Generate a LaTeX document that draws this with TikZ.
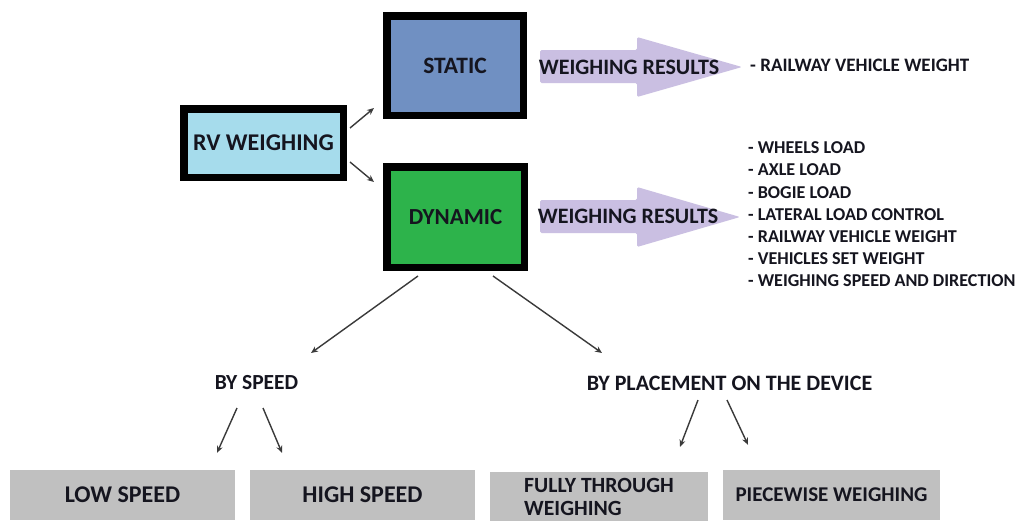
\documentclass[tikz,border=0pt]{standalone}
\usepackage{fontspec}
\setmainfont{Carlito}
\usetikzlibrary{arrows.meta}
\definecolor{rvblue}{HTML}{A6DCEC}
\definecolor{stblue}{HTML}{7090C2}
\definecolor{dyngreen}{HTML}{2DB34B}
\definecolor{lilac}{HTML}{CABFE2}
\definecolor{boxgray}{HTML}{C0C0C0}
\definecolor{ink}{HTML}{15151F}
\definecolor{arrowgray}{HTML}{3A3A3A}
\newcommand{\fs}[1]{\fontsize{#1}{#1}\selectfont\bfseries}
\begin{document}
\begin{tikzpicture}[x=1pt,y=-1pt,
  every node/.style={text=ink},
  lbl/.style={font=\fs{22}, inner sep=0pt},
  small/.style={font=\fontsize{18.1}{22.2}\selectfont\bfseries, inner sep=0pt, align=left},
  heavybox/.style={draw=black, line width=7.5pt, rectangle, inner sep=0pt},
  graybox/.style={fill=boxgray, rectangle, inner sep=0pt, minimum height=50pt, lbl},
  conn/.style={draw=arrowgray, line width=1.4pt, -{Stealth[length=7pt,width=6pt]}},
  bigarrow/.style={fill=lilac, rounded corners=1.5pt},
]
\useasboundingbox (0,0) rectangle (1019,520);
\fill[white] (0,0) rectangle (1019,520);

% main boxes
\node[heavybox, fill=rvblue, minimum width=159.5pt, minimum height=68.5pt,
      font=\fs{24}] (rv) at (263.5,143) {RV WEIGHING};
\node[heavybox, fill=stblue, minimum width=136.5pt, minimum height=99.5pt, font=\fs{23.5}] (static) at (455,65.5) {STATIC};
\node[heavybox, fill=dyngreen, minimum width=137.5pt, minimum height=100.5pt, font=\fs{23}] (dynamic) at (455.5,217) {DYNAMIC};

% big result arrows
\fill[bigarrow] (540,50) -- (637,50) -- (637,37) -- (742,67) -- (637,97) -- (637,83) -- (540,83) -- cycle;
\fill[bigarrow] (540,200) -- (637,200) -- (637,187) -- (740,217) -- (637,247) -- (637,233) -- (540,233) -- cycle;
\node[lbl] (res1) at (629,67) {WEIGHING RESULTS};
\node[lbl] (res2) at (628,216) {WEIGHING RESULTS};

% result lists
\node[small, anchor=west, font=\fs{19}] (list1) at (750,65) {- RAILWAY VEHICLE WEIGHT};
\node[small, anchor=west] (list2) at (748,214.5) {- WHEELS LOAD\\- AXLE LOAD\\- BOGIE LOAD\\- LATERAL LOAD CONTROL\\- RAILWAY VEHICLE WEIGHT\\- VEHICLES SET WEIGHT\\- WEIGHING SPEED AND DIRECTION};

% classification labels
\node[lbl, font=\fs{21.5}] (speed) at (256.5,383) {BY SPEED};
\node[lbl] (place) at (729.5,383) {BY PLACEMENT ON THE DEVICE};

% bottom boxes
\node[graybox, minimum width=225pt, font=\fs{24}] (low) at (122.5,495) {LOW SPEED};
\node[graybox, minimum width=225pt, font=\fs{24}] (high) at (362.5,495) {HIGH SPEED};
\node[graybox, minimum width=218pt, align=left, font=\fontsize{21.7}{23}\selectfont\bfseries] (fully) at (599,497) {FULLY THROUGH\\WEIGHING};
\node[graybox, minimum width=217pt, font=\fs{21}] (piece) at (831.5,495) {PIECEWISE WEIGHING};

% connectors
\draw[conn] ([xshift=3pt,yshift=15pt]rv.east) -- ([xshift=-9pt,yshift=11pt]static.south west);
\draw[conn] ([xshift=3pt,yshift=-19pt]rv.east) -- ([xshift=-9pt,yshift=-19pt]dynamic.north west);
\draw[conn] ([xshift=-37.5pt,yshift=-5pt]dynamic.south) -- ([xshift=54.5pt,yshift=30pt]speed.center);
\draw[conn] ([xshift=37.5pt,yshift=-5pt]dynamic.south) -- ([xshift=-127.5pt,yshift=30pt]place.center);
\draw[conn] ([xshift=-19.5pt,yshift=-25pt]speed.center) -- ([xshift=94.5pt,yshift=17pt]low.north);
\draw[conn] ([xshift=6.5pt,yshift=-25pt]speed.center) -- ([xshift=-80.5pt,yshift=17pt]high.north);
\draw[conn] ([xshift=-31.5pt,yshift=-17pt]place.center) -- ([xshift=81pt,yshift=25pt]fully.north);
\draw[conn] ([xshift=-2.5pt,yshift=-17pt]place.center) -- ([xshift=-83.5pt,yshift=25pt]piece.north);
\end{tikzpicture}
\end{document}
